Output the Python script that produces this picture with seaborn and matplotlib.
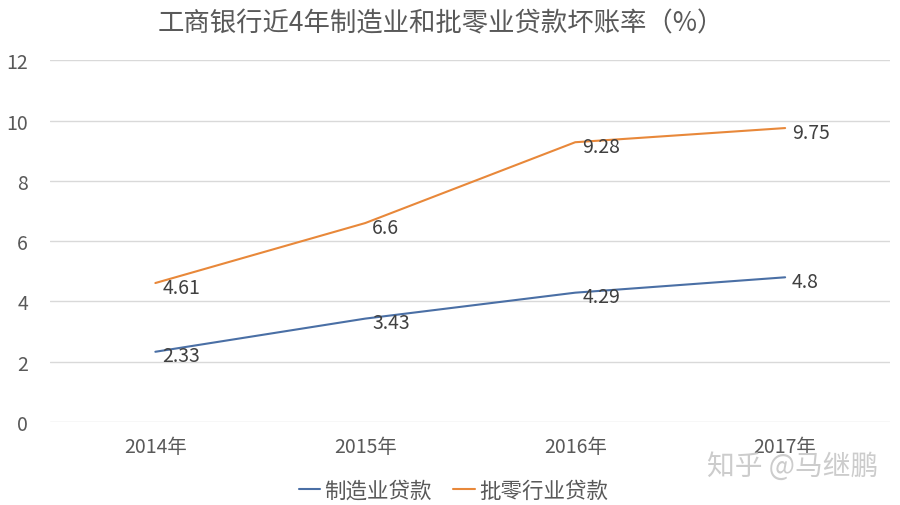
import pandas as pd
import matplotlib.pyplot as plt
import seaborn as sns

years = ['2014年', '2015年', '2016年', '2017年']
manufacturing = [2.33, 3.43, 4.29, 4.8]
wholesale_retail = [4.61, 6.6, 9.28, 9.75]
series_names = ['制造业贷款', '批零行业贷款']
colors = ['#4A6FA5', '#E8883A']

df = pd.DataFrame({
    'year': years * 2,
    'rate': manufacturing + wholesale_retail,
    'series': [series_names[0]] * 4 + [series_names[1]] * 4,
})

sns.set_style('white')
plt.rcParams['font.family'] = ['Noto Sans CJK SC', 'DejaVu Sans']

fig = plt.figure(figsize=(9, 5.06), dpi=100)
ax = fig.add_axes([0.056, 0.164, 0.933, 0.715])

sns.lineplot(data=df, x='year', y='rate', hue='series', palette=colors,
             linewidth=1.5, ax=ax, sort=False)

# data labels to the right of each point
for vals in [manufacturing, wholesale_retail]:
    for i, v in enumerate(vals):
        ax.annotate(f'{v:g}', (i, v), xytext=(5, -3), textcoords='offset points',
                    ha='left', va='center', fontsize=14, color='#404040')

ax.set_xlim(-0.5, 3.5)
ax.set_ylim(0, 12)
ax.set_yticks(range(0, 13, 2))
ax.yaxis.grid(True, color='#D9D9D9', linewidth=1)
ax.set_axisbelow(True)
for s in ax.spines.values():
    s.set_visible(False)
ax.tick_params(axis='both', length=0, labelsize=14, colors='#595959')
ax.tick_params(axis='x', pad=10)
ax.tick_params(axis='y', pad=16)
ax.set_xlabel('')
ax.set_ylabel('')

fig.suptitle('工商银行近4年制造业和批零业贷款坏账率（%）', x=0.49, y=0.98,
             fontsize=19, color='#595959')

handles, labels = ax.get_legend_handles_labels()
ax.legend(handles, labels, loc='upper center', bbox_to_anchor=(0.48, -0.105),
          ncol=2, frameon=False, fontsize=15.5, labelcolor='#595959',
          handlelength=1.0, handletextpad=0.2, columnspacing=1.0)

fig.text(0.976, 0.077, '知乎 @马继鹏', ha='right', va='center', fontsize=20,
         color='#CCCCCC')

plt.savefig('out.png', dpi=100)
